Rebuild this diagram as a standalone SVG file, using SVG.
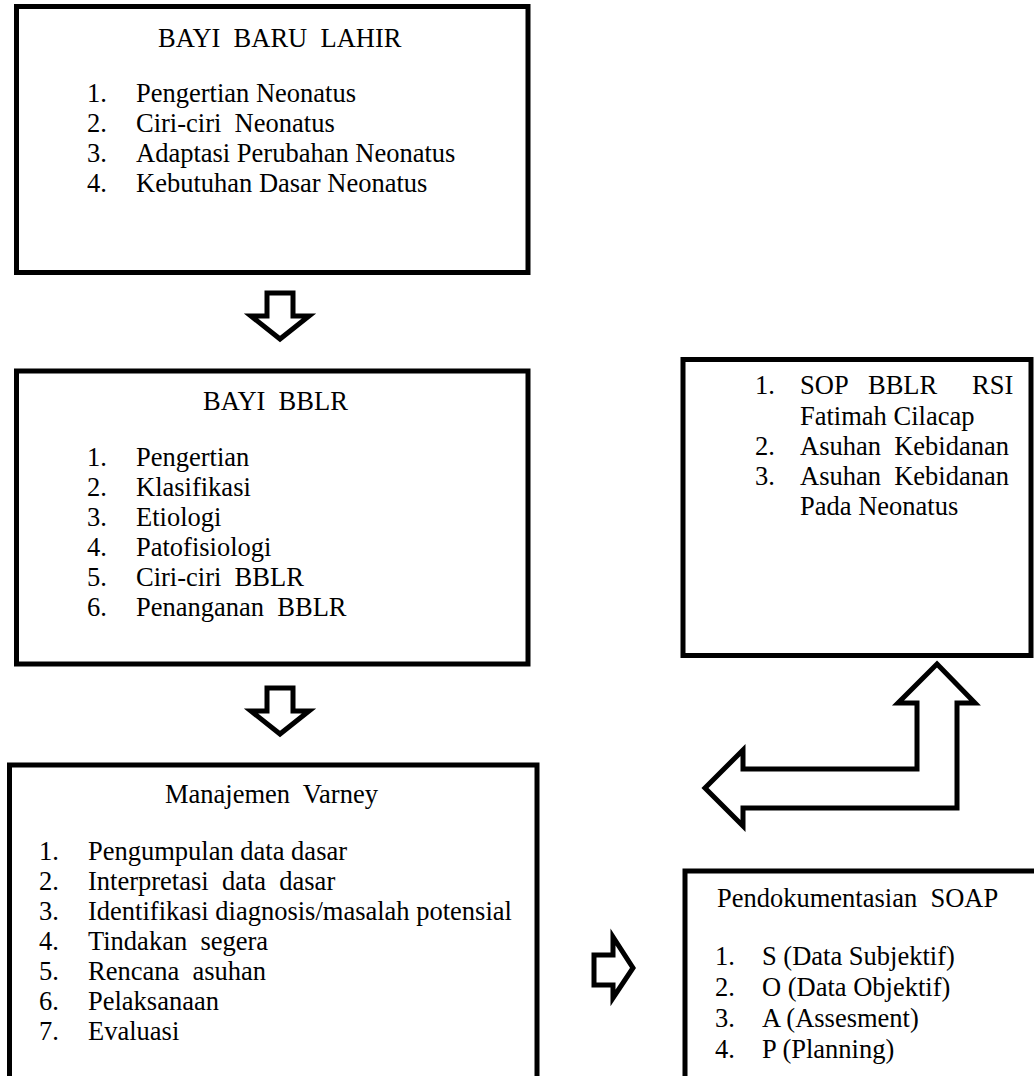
<svg xmlns="http://www.w3.org/2000/svg" width="1034" height="1076" viewBox="0 0 1034 1076">
<style>
.box{fill:#fff;stroke:#000;stroke-width:5}
.arr{fill:#fff;stroke:#000;stroke-width:5;stroke-linejoin:miter}
text{font-family:"Liberation Serif","Times New Roman",serif;font-size:26.5px;fill:#000;white-space:pre}
</style>
<rect width="1034" height="1076" fill="#fff"/>
<g id="node-bayi-baru-lahir">
<rect class="box" x="16.5" y="6.5" width="511.5" height="266"/>
<text x="158" y="47">BAYI  BARU  LAHIR</text>
<text x="87" y="102">1.</text><text x="136" y="102">Pengertian Neonatus</text>
<text x="87" y="132">2.</text><text x="136" y="132">Ciri-ciri  Neonatus</text>
<text x="87" y="162">3.</text><text x="136" y="162">Adaptasi Perubahan Neonatus</text>
<text x="87" y="192">4.</text><text x="136" y="192">Kebutuhan Dasar Neonatus</text>
</g>
<g id="node-bayi-bblr">
<rect class="box" x="16.5" y="371" width="511.5" height="293"/>
<text x="203" y="410">BAYI  BBLR</text>
<text x="87" y="466">1.</text><text x="136" y="466">Pengertian</text>
<text x="87" y="496">2.</text><text x="136" y="496">Klasifikasi</text>
<text x="87" y="526">3.</text><text x="136" y="526">Etiologi</text>
<text x="87" y="556">4.</text><text x="136" y="556">Patofisiologi</text>
<text x="87" y="586">5.</text><text x="136" y="586">Ciri-ciri  BBLR</text>
<text x="87" y="616">6.</text><text x="136" y="616">Penanganan  BBLR</text>
</g>
<g id="node-manajemen-varney">
<rect class="box" x="9.5" y="765" width="527.5" height="340"/>
<text x="165" y="803">Manajemen  Varney</text>
<text x="39" y="860">1.</text><text x="88" y="860">Pengumpulan data dasar</text>
<text x="39" y="890">2.</text><text x="88" y="890">Interpretasi  data  dasar</text>
<text x="39" y="920">3.</text><text x="88" y="920">Identifikasi diagnosis/masalah potensial</text>
<text x="39" y="950">4.</text><text x="88" y="950">Tindakan  segera</text>
<text x="39" y="980">5.</text><text x="88" y="980">Rencana  asuhan</text>
<text x="39" y="1010">6.</text><text x="88" y="1010">Pelaksanaan</text>
<text x="39" y="1040">7.</text><text x="88" y="1040">Evaluasi</text>
</g>
<g id="node-sop">
<rect class="box" x="683" y="359.5" width="348" height="296"/>
<text x="755" y="394">1.</text><text x="800" y="394">SOP</text><text x="868" y="394">BBLR</text><text x="972" y="394">RSI</text>
<text x="800" y="425">Fatimah Cilacap</text>
<text x="755" y="455">2.</text><text x="800" y="455">Asuhan  Kebidanan</text>
<text x="755" y="485">3.</text><text x="800" y="485">Asuhan  Kebidanan</text>
<text x="800" y="515">Pada Neonatus</text>
</g>
<g id="node-soap">
<rect class="box" x="685" y="871" width="360" height="240"/>
<text x="717" y="907">Pendokumentasian  SOAP</text>
<text x="715" y="965">1.</text><text x="762" y="965">S (Data Subjektif)</text>
<text x="715" y="996">2.</text><text x="762" y="996">O (Data Objektif)</text>
<text x="715" y="1027">3.</text><text x="762" y="1027">A (Assesment)</text>
<text x="715" y="1058">4.</text><text x="762" y="1058">P (Planning)</text>
</g>
<g id="connectors">
<polygon class="arr" points="267,293 293,293 293,316 309,316 280,339 251,316 267,316"/>
<polygon class="arr" points="267,688 293,688 293,711 309,711 280,734 251,711 267,711"/>
<polygon class="arr" points="937,664 975,703 957,703 957,808 743,808 743,826 705,788 743,750 743,769 917,769 917,703 898,703"/>
<polygon class="arr" points="594,955 613,955 613,937 633,968 613,998 613,985 594,985"/>
</g>
</svg>
